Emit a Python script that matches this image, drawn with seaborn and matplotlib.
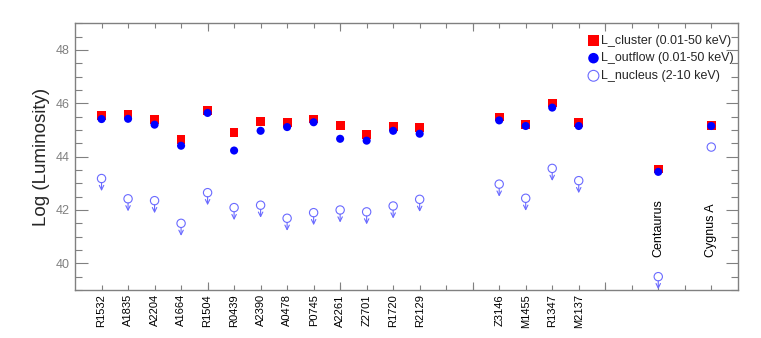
import numpy as np
import pandas as pd
import matplotlib
matplotlib.use("Agg")
import matplotlib.pyplot as plt
import seaborn as sns

# slots along the x axis, "" = empty slot (gap between groups)
slots = ["R1532", "A1835", "A2204", "A1664", "R1504", "R0439", "A2390", "A0478",
         "P0745", "A2261", "Z2701", "R1720", "R2129", "", "",
         "Z3146", "M1455", "R1347", "M2137", "", "",
         "Centaurus", "", "Cygnus A"]

objects = ["R1532", "A1835", "A2204", "A1664", "R1504", "R0439", "A2390", "A0478",
           "P0745", "A2261", "Z2701", "R1720", "R2129",
           "Z3146", "M1455", "R1347", "M2137", "Centaurus", "Cygnus A"]

L_cluster = [45.54, 45.58, 45.39, 44.64, 45.74, 44.91, 45.32, 45.29,
             45.41, 45.16, 44.82, 45.14, 45.10,
             45.49, 45.22, 46.01, 45.29, 43.54, 45.17]
L_outflow = [45.41, 45.42, 45.20, 44.41, 45.64, 44.23, 44.97, 45.11,
             45.29, 44.67, 44.60, 44.97, 44.86,
             45.36, 45.15, 45.84, 45.15, 43.43, 45.15]
L_nucleus = [43.18, 42.42, 42.35, 41.50, 42.65, 42.09, 42.18, 41.69,
             41.90, 42.00, 41.93, 42.15, 42.40,
             42.97, 42.44, 43.56, 43.10, 39.50, 44.36]
# True where the nucleus value is only an upper limit
nucleus_limit = [True] * 18 + [False]

# labels written inside the plot instead of under the axis
inside_labels = ["Centaurus", "Cygnus A"]

df = pd.DataFrame({"name": objects, "cluster": L_cluster, "outflow": L_outflow,
                   "nucleus": L_nucleus, "limit": nucleus_limit})
df["x"] = [slots.index(n) + 1 for n in objects]

sns.set_style("white")
plt.rcParams["font.family"] = ["Liberation Sans", "DejaVu Sans"]

fig = plt.figure(figsize=(7.61, 3.38), dpi=100)
ax = fig.add_axes([0.0986, 0.142, 0.8709, 0.789])

nuc_color = "#6a6aff"
sns.scatterplot(data=df, x="x", y="cluster", marker="s", s=40, color="#ff0000",
                edgecolor="none", label="L_cluster (0.01-50 keV)", ax=ax, zorder=3)
sns.scatterplot(data=df, x="x", y="outflow", marker="o", s=34, color="#0000ff",
                edgecolor="none", label="L_outflow (0.01-50 keV)", ax=ax, zorder=4)
ax.scatter(df["x"], df["nucleus"], marker="o", s=36, facecolors="none",
           edgecolors=nuc_color, linewidths=0.8, label="L_nucleus (2-10 keV)", zorder=4)

# upper limit arrows
for _, r in df[df["limit"]].iterrows():
    ax.annotate("", xy=(r["x"], r["nucleus"] - 0.47), xytext=(r["x"], r["nucleus"]),
                arrowprops=dict(arrowstyle="->", color=nuc_color, lw=0.8,
                                shrinkA=3.0, shrinkB=0, mutation_scale=8))

for name in inside_labels:
    ax.text(slots.index(name) + 1, 40.22, name, rotation=90, ha="center",
            va="bottom", fontsize=9, color="black")

ax.set_xlim(0, 25)
ax.set_ylim(39, 49)

xt = np.arange(1, len(slots) + 1)
xl = [s if s not in inside_labels else "" for s in slots]
ax.set_xticks(xt, xl, rotation=90, fontsize=8)
ax.set_xticks([5, 10, 15, 20], minor=True)
ax.xaxis.remove_overlapping_locs = False
ax.set_yticks([40, 42, 44, 46, 48])
ax.set_yticks(np.arange(39, 49.01, 0.5), minor=True)

gray = "#808080"
ax.tick_params(axis="x", which="major", direction="in", length=3.5, width=0.8,
               color=gray, top=True, bottom=True, pad=3, labelcolor="black")
ax.tick_params(axis="x", which="minor", direction="in", length=6, width=0.8,
               color=gray, top=True, bottom=True)
ax.tick_params(axis="y", which="major", direction="in", length=9, width=0.8,
               color=gray, left=True, right=True, pad=4, labelsize=9, labelcolor=gray)
ax.tick_params(axis="y", which="minor", direction="in", length=5, width=0.8,
               color=gray, left=True, right=True)
for sp in ax.spines.values():
    sp.set_color(gray)
    sp.set_linewidth(1.0)

ax.set_xlabel("")
ax.set_ylabel("Log (Luminosity)", fontsize=13.5, labelpad=4)

ax.legend(loc="upper right", bbox_to_anchor=(1.005, 0.985), frameon=False, fontsize=9,
          handletextpad=0.1, labelspacing=0.45, borderaxespad=0.2, handlelength=1.0,
          markerscale=1.3)

fig.savefig("out.png", dpi=100)
